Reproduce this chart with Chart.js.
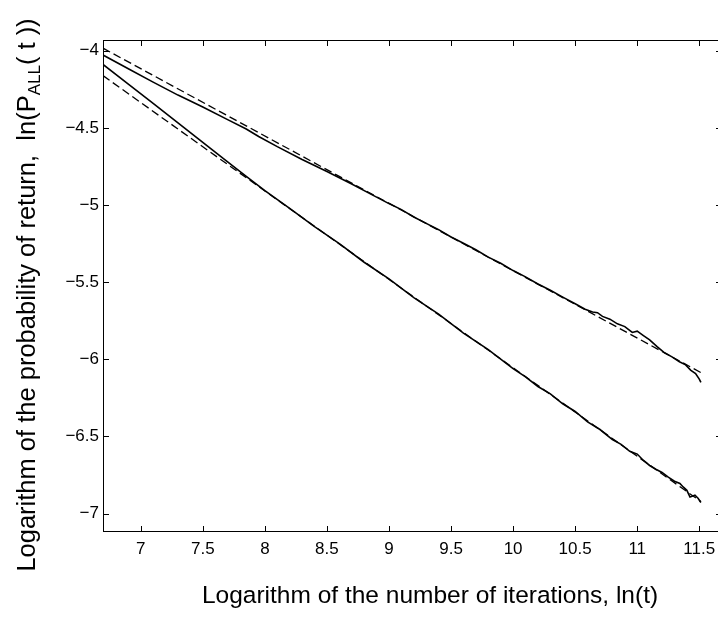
<!DOCTYPE html>
<html><head><meta charset="utf-8">
<script src="https://cdn.jsdelivr.net/npm/chart.js@4.4.0/dist/chart.umd.min.js"></script>
<style>html,body{margin:0;padding:0;background:#fff;overflow:hidden}#wrap{width:718px;height:619px;overflow:hidden;position:relative}canvas{display:block}</style>
</head><body><div id="wrap"><canvas id="c" width="724" height="619"></canvas></div>
<script>
const xTicks = [7, 7.5, 8, 8.5, 9, 9.5, 10, 10.5, 11, 11.5];
const yTicks = [-4, -4.5, -5, -5.5, -6, -6.5, -7];

const upperSolidX = [6.696, 6.9, 7.1, 7.3, 7.5, 7.7, 7.85, 7.95, 8.1, 8.3, 8.5, 8.7, 8.85, 9.0, 9.1, 9.2, 9.3, 9.4, 9.5, 9.6, 9.7, 9.8, 9.9, 10.0, 10.1, 10.2, 10.3, 10.4, 10.5, 10.58, 10.64, 10.68, 10.72, 10.78, 10.84, 10.9, 10.96, 11.0, 11.05, 11.1, 11.16, 11.22, 11.28, 11.34, 11.39, 11.43, 11.47, 11.5, 11.513];
const upperSolidY = [-4.028, -4.117, -4.204, -4.288, -4.365, -4.447, -4.508, -4.556, -4.622, -4.705, -4.783, -4.864, -4.928, -4.991, -5.030, -5.078, -5.119, -5.160, -5.207, -5.248, -5.290, -5.338, -5.378, -5.425, -5.466, -5.512, -5.553, -5.597, -5.640, -5.676, -5.694, -5.698, -5.722, -5.740, -5.770, -5.788, -5.826, -5.818, -5.846, -5.874, -5.918, -5.958, -5.984, -6.016, -6.036, -6.070, -6.092, -6.128, -6.150];

const lowerSolidX = [6.696, 6.9, 7.1, 7.3, 7.5, 7.7, 7.85, 8.0, 8.2, 8.4, 8.6, 8.8, 9.0, 9.2, 9.4, 9.6, 9.8, 10.0, 10.1, 10.2, 10.3, 10.4, 10.5, 10.6, 10.7, 10.8, 10.87, 10.94, 11.0, 11.048, 11.1, 11.15, 11.2, 11.25, 11.3, 11.344, 11.37, 11.4, 11.425, 11.465, 11.49, 11.513];
const lowerSolidY = [-4.089, -4.217, -4.342, -4.468, -4.595, -4.721, -4.815, -4.907, -5.022, -5.140, -5.250, -5.371, -5.479, -5.600, -5.707, -5.830, -5.937, -6.060, -6.114, -6.176, -6.224, -6.288, -6.338, -6.406, -6.455, -6.520, -6.551, -6.596, -6.614, -6.654, -6.688, -6.712, -6.733, -6.764, -6.790, -6.805, -6.827, -6.849, -6.892, -6.881, -6.900, -6.928];

const upperDashX = [6.696, 11.513];
const upperDashY = [-3.984, -6.086];
const lowerDashX = [6.696, 11.513];
const lowerDashY = [-4.162, -6.922];

const toPts = (xs, ys) => xs.map((x, i) => ({x: x, y: ys[i]}));
const fmt = v => { const s = String(Math.abs(v)); return v < 0 ? '\u2212' + s : s; };

const FONT = '"Liberation Sans", Arial, Helvetica, sans-serif';

const framePlugin = {
  id: 'frame',
  afterDraw(chart) {
    const {ctx, chartArea: a, scales: {x, y}} = chart;
    ctx.save();
    ctx.strokeStyle = '#000';
    ctx.lineWidth = 1;
    ctx.strokeRect(a.left + 0.5, a.top + 0.5, a.right - a.left - 1, a.bottom - a.top - 1);
    const tl = 6;
    ctx.beginPath();
    xTicks.forEach(v => {
      const px = Math.round(x.getPixelForValue(v)) + 0.5;
      ctx.moveTo(px, a.bottom); ctx.lineTo(px, a.bottom - tl);
      ctx.moveTo(px, a.top); ctx.lineTo(px, a.top + tl);
    });
    yTicks.forEach(v => {
      const py = Math.round(y.getPixelForValue(v)) + 0.5;
      ctx.moveTo(a.left, py); ctx.lineTo(a.left + tl, py);
      ctx.moveTo(a.right, py); ctx.lineTo(a.right - tl, py);
    });
    ctx.stroke();

    // x title
    ctx.fillStyle = '#000';
    ctx.font = '24.5px ' + FONT;
    ctx.textAlign = 'center';
    ctx.textBaseline = 'alphabetic';
    ctx.fillText('Logarithm of the number of iterations, ln(t)', 430, 603);

    // y title with subscript
    const main = 'Logarithm of the probability of return,  ln(P';
    const sub = 'ALL';
    const tail = '( t ))';
    const big = '25.5px ' + FONT, small = '17px ' + FONT;
    ctx.font = big; const w1 = ctx.measureText(main).width; const w3 = ctx.measureText(tail).width;
    ctx.font = small; const w2 = ctx.measureText(sub).width;
    const total = w1 + w2 + w3;
    ctx.translate(35, 295);
    ctx.rotate(-Math.PI / 2);
    ctx.textAlign = 'left';
    let sx = -total / 2;
    ctx.font = big; ctx.fillText(main, sx, 0); sx += w1;
    ctx.font = small; ctx.fillText(sub, sx, 5); sx += w2;
    ctx.font = big; ctx.fillText(tail, sx, 0);
    ctx.restore();
  }
};

const line = (pts, dashed) => ({
  data: pts,
  borderColor: '#000',
  borderWidth: dashed ? 1.3 : 1.6,
  borderDash: dashed ? [8, 4] : [],
  pointRadius: 0,
  fill: false,
  tension: 0
});

new Chart(document.getElementById('c'), {
  type: 'line',
  data: {
    datasets: [
      line(toPts(upperDashX, upperDashY), true),
      line(toPts(lowerDashX, lowerDashY), true),
      line(toPts(upperSolidX, upperSolidY), false),
      line(toPts(lowerSolidX, lowerSolidY), false)
    ]
  },
  options: {
    responsive: false,
    animation: false,
    devicePixelRatio: 1,
    layout: {padding: {top: 40, right: 2, left: 0, bottom: 0}},
    plugins: {legend: {display: false}, tooltip: {enabled: false}},
    scales: {
      x: {
        type: 'linear', min: 6.696, max: 11.683,
        grid: {display: false, drawTicks: false, tickLength: 0},
        border: {display: false},
        afterBuildTicks: s => { s.ticks = xTicks.map(v => ({value: v})); },
        afterFit: s => { s.height = 87; },
        ticks: {autoSkip: false, maxRotation: 0, padding: 7, color: '#000', font: {family: FONT, size: 17}, callback: v => fmt(v)}
      },
      y: {
        type: 'linear', min: -7.119, max: -3.931,
        grid: {display: false, drawTicks: false, tickLength: 0},
        border: {display: false},
        afterBuildTicks: s => { s.ticks = yTicks.map(v => ({value: v})); },
        afterFit: s => { s.width = 103; },
        ticks: {autoSkip: false, padding: 4, color: '#000', font: {family: FONT, size: 17}, callback: v => fmt(v)}
      }
    }
  },
  plugins: [framePlugin]
});
</script></body></html>
